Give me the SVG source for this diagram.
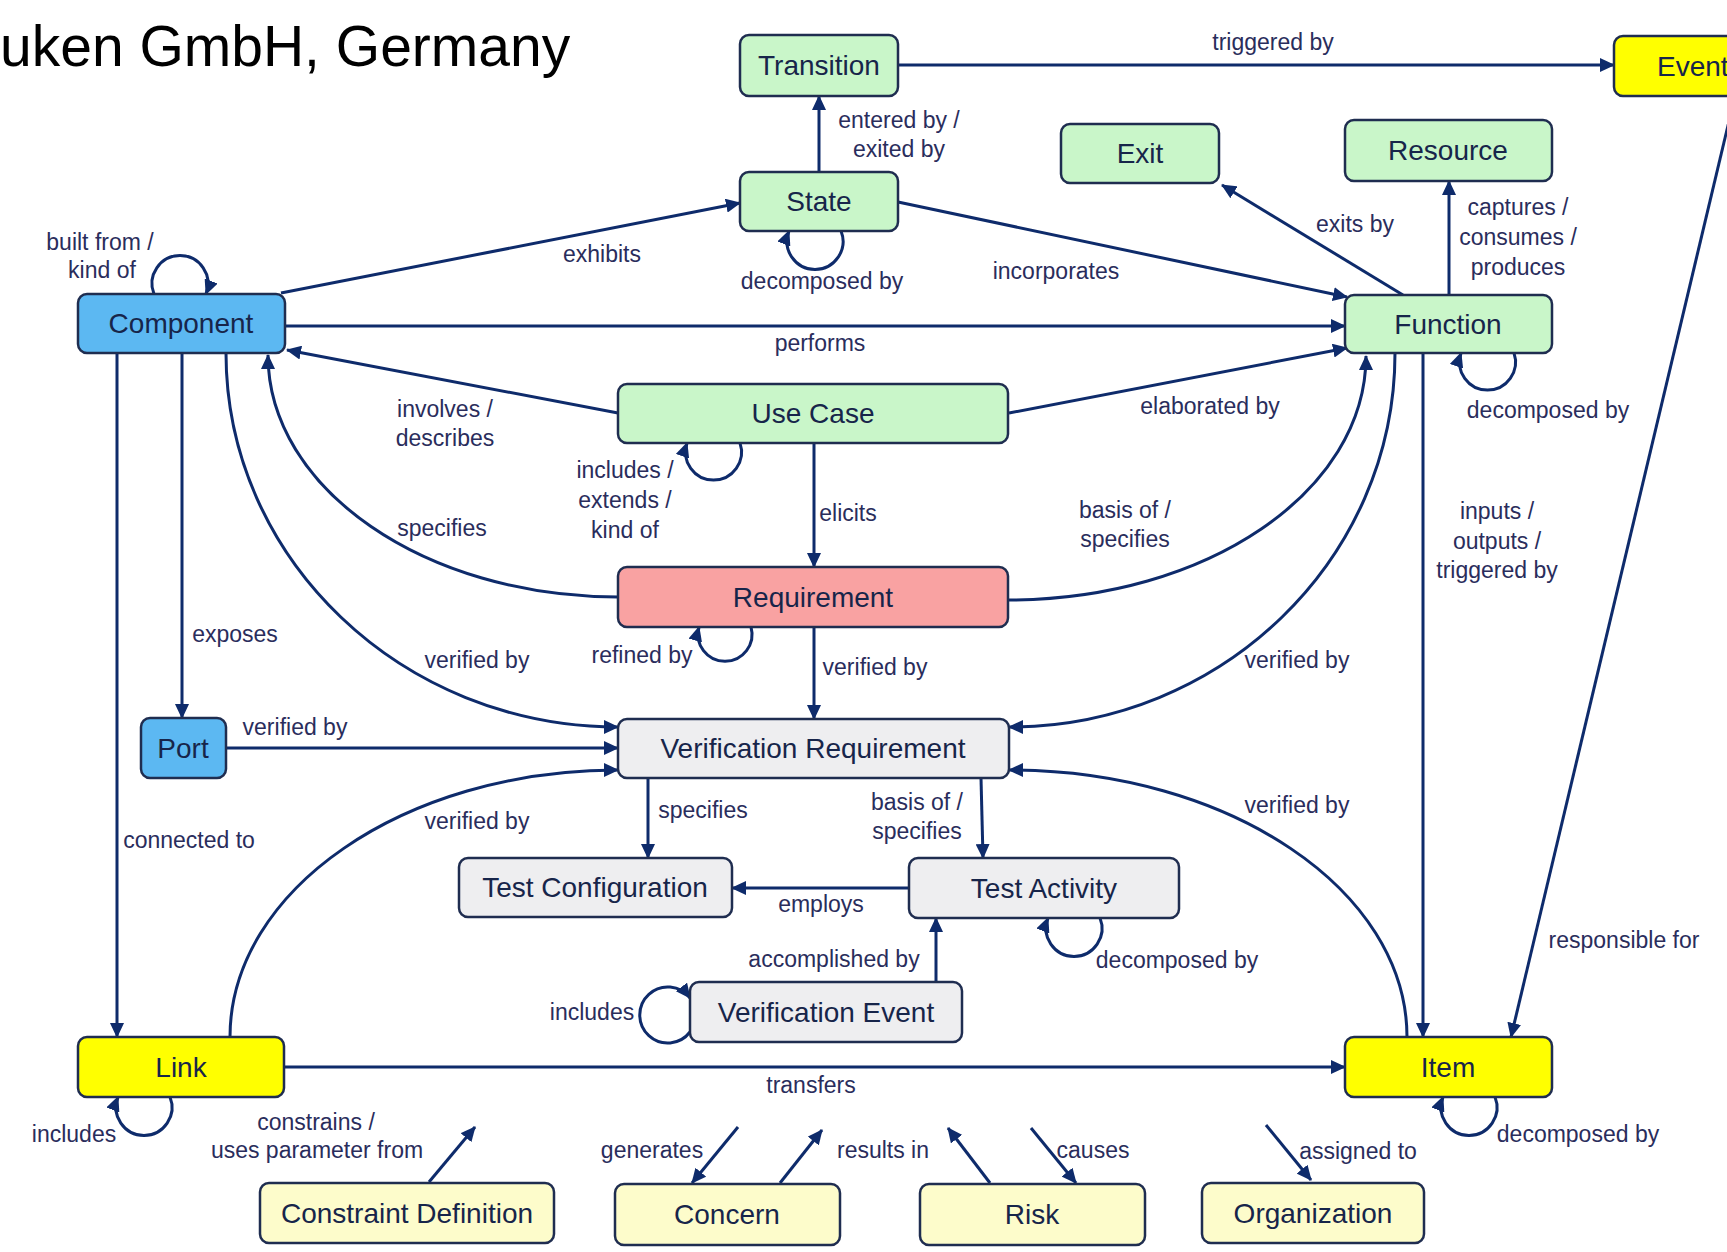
<svg xmlns="http://www.w3.org/2000/svg" width="1727" height="1252" viewBox="0 0 1727 1252">
<style>
.n rect{stroke:#1f2d50;stroke-width:2.5}
.n text{font-family:"Liberation Sans",Arial,sans-serif;font-size:28px;fill:#17254a;text-anchor:middle}
.g rect{fill:#c9f6c9}.b rect{fill:#5cb8f2}.r rect{fill:#f9a2a2}.v rect{fill:#eeeef0}.y rect{fill:#ffff00}.p rect{fill:#fdfccb}
#connectors path{fill:none;stroke:#0e2b6b;stroke-width:3}
#connectors .a{marker-end:url(#arr)}
#labels text{font-family:"Liberation Sans",Arial,sans-serif;font-size:23px;fill:#2a2d5c;text-anchor:middle}
</style>
<defs>
<marker id="arr" markerUnits="userSpaceOnUse" markerWidth="16" markerHeight="14" refX="14" refY="7" orient="auto">
<path d="M0,0 L15,7 L0,14 z" fill="#0e2b6b"/>
</marker>
</defs>
<rect width="1727" height="1252" fill="#ffffff"/>
<text x="0" y="66" font-family="Liberation Sans,Arial,sans-serif" font-size="57" fill="#000000">uken GmbH, Germany</text>

<g id="connectors">
<path class="a" d="M898 65 L1614 65"/>
<path class="a" d="M819 172 L819 96"/>
<path class="a" d="M281 293 L740 203"/>
<path class="a" d="M841 231 A 28 28 0 1 1 789 231"/>
<path class="a" d="M898 202 L1347 297"/>
<path class="a" d="M285 326 L1345 326"/>
<path class="a" d="M1403 295 L1222 185"/>
<path class="a" d="M1449 295 L1449 181"/>
<path class="a" d="M1514 353 A 28 28 0 1 1 1461 353"/>
<path class="a" d="M1009 413 L1347 348"/>
<path class="a" d="M618 413 L287 350"/>
<path class="a" d="M740 443 A 28 28 0 1 1 687 443"/>
<path class="a" d="M814 443 L814 567"/>
<path class="a" d="M618 597 C425 597 268 489 268 355"/>
<path class="a" d="M1008 600 C1206 600 1366 492 1366 356"/>
<path class="a" d="M751 627 A 27 27 0 1 1 699 627"/>
<path class="a" d="M814 627 L814 719"/>
<path class="a" d="M226 353 C226 559 402 727 618 727"/>
<path class="a" d="M1395 353 C1395 559 1222 727 1009 727"/>
<path class="a" d="M226 748 L618 748"/>
<path class="a" d="M182 353 L182 718"/>
<path class="a" d="M117 353 L117 1037"/>
<path class="a" d="M230 1037 C230 890 404 770 618 770"/>
<path class="a" d="M1407 1037 C1407 890 1229 770 1009 770"/>
<path class="a" d="M1423 353 L1423 1037"/>
<path class="a" d="M1735 96 L1511 1037"/>
<path class="a" d="M284 1067 L1345 1067"/>
<path class="a" d="M170 1097 A 28 28 0 1 1 118 1097"/>
<path class="a" d="M429 1182 L475 1127"/>
<path class="a" d="M738 1127 L692 1183"/>
<path class="a" d="M780 1183 L822 1130"/>
<path class="a" d="M990 1183 L948 1128"/>
<path class="a" d="M1031 1128 L1076 1183"/>
<path class="a" d="M1266 1125 L1311 1180"/>
<path class="a" d="M648 778 L648 858"/>
<path class="a" d="M981 778 L983 858"/>
<path class="a" d="M909 888 L732 888"/>
<path class="a" d="M936 982 L936 918"/>
<path class="a" d="M1100 918 A 28 28 0 1 1 1048 918"/>
<path class="a" d="M690 1032 A 28 28 0 1 1 690 998"/>
<path class="a" d="M1495 1097 A 28 28 0 1 1 1443 1097"/>
<path class="a" d="M154 294 A 28 28 0 1 1 206 294"/>
</g>

<g id="labels">
<text x="1273" y="50">triggered by</text>
<text x="899" y="128">entered by /</text>
<text x="899" y="157">exited by</text>
<text x="1355" y="232">exits by</text>
<text x="1518" y="215">captures /</text>
<text x="1518" y="245">consumes /</text>
<text x="1518" y="275">produces</text>
<text x="822" y="289">decomposed by</text>
<text x="1056" y="279">incorporates</text>
<text x="602" y="262">exhibits</text>
<text x="100" y="250">built from /</text>
<text x="102" y="278">kind of</text>
<text x="820" y="351">performs</text>
<text x="1548" y="418">decomposed by</text>
<text x="1210" y="414">elaborated by</text>
<text x="445" y="417">involves /</text>
<text x="445" y="446">describes</text>
<text x="625" y="478">includes /</text>
<text x="625" y="508">extends /</text>
<text x="625" y="538">kind of</text>
<text x="848" y="521">elicits</text>
<text x="442" y="536">specifies</text>
<text x="1125" y="518">basis of /</text>
<text x="1125" y="547">specifies</text>
<text x="1497" y="519">inputs /</text>
<text x="1497" y="549">outputs /</text>
<text x="1497" y="578">triggered by</text>
<text x="642" y="663">refined by</text>
<text x="875" y="675">verified by</text>
<text x="235" y="642">exposes</text>
<text x="477" y="668">verified by</text>
<text x="1297" y="668">verified by</text>
<text x="295" y="735">verified by</text>
<text x="703" y="818">specifies</text>
<text x="917" y="810">basis of /</text>
<text x="917" y="839">specifies</text>
<text x="477" y="829">verified by</text>
<text x="1297" y="813">verified by</text>
<text x="189" y="848">connected to</text>
<text x="821" y="912">employs</text>
<text x="834" y="967">accomplished by</text>
<text x="1177" y="968">decomposed by</text>
<text x="592" y="1020">includes</text>
<text x="811" y="1093">transfers</text>
<text x="1624" y="948">responsible for</text>
<text x="74" y="1142">includes</text>
<text x="316" y="1130">constrains /</text>
<text x="317" y="1158">uses parameter from</text>
<text x="652" y="1158">generates</text>
<text x="883" y="1158">results in</text>
<text x="1093" y="1158">causes</text>
<text x="1358" y="1159">assigned to</text>
<text x="1578" y="1142">decomposed by</text>
</g>

<g id="node-transition" class="n g"><rect x="740" y="35" width="158" height="61" rx="9"/><text x="819" y="75">Transition</text></g>
<g id="node-state" class="n g"><rect x="740" y="172" width="158" height="59" rx="9"/><text x="819" y="211">State</text></g>
<g id="node-exit" class="n g"><rect x="1061" y="124" width="158" height="59" rx="9"/><text x="1140" y="163">Exit</text></g>
<g id="node-resource" class="n g"><rect x="1345" y="120" width="207" height="61" rx="9"/><text x="1448" y="160">Resource</text></g>
<g id="node-function" class="n g"><rect x="1345" y="295" width="207" height="58" rx="9"/><text x="1448" y="334">Function</text></g>
<g id="node-event" class="n y"><rect x="1614" y="36" width="150" height="60" rx="9"/><text x="1657" y="76" style="text-anchor:start">Event</text></g>
<g id="node-component" class="n b"><rect x="78" y="294" width="207" height="59" rx="9"/><text x="181" y="333">Component</text></g>
<g id="node-usecase" class="n g"><rect x="618" y="384" width="390" height="59" rx="9"/><text x="813" y="423">Use Case</text></g>
<g id="node-requirement" class="n r"><rect x="618" y="567" width="390" height="60" rx="9"/><text x="813" y="607">Requirement</text></g>
<g id="node-verification-requirement" class="n v"><rect x="618" y="719" width="391" height="59" rx="9"/><text x="813" y="758">Verification Requirement</text></g>
<g id="node-port" class="n b"><rect x="141" y="718" width="85" height="60" rx="9"/><text x="183" y="758">Port</text></g>
<g id="node-test-configuration" class="n v"><rect x="459" y="858" width="273" height="59" rx="9"/><text x="595" y="897">Test Configuration</text></g>
<g id="node-test-activity" class="n v"><rect x="909" y="858" width="270" height="60" rx="9"/><text x="1044" y="898">Test Activity</text></g>
<g id="node-verification-event" class="n v"><rect x="690" y="982" width="272" height="60" rx="9"/><text x="826" y="1022">Verification Event</text></g>
<g id="node-link" class="n y"><rect x="78" y="1037" width="206" height="60" rx="9"/><text x="181" y="1077">Link</text></g>
<g id="node-item" class="n y"><rect x="1345" y="1037" width="207" height="60" rx="9"/><text x="1448" y="1077">Item</text></g>
<g id="node-constraint-definition" class="n p"><rect x="260" y="1183" width="294" height="60" rx="9"/><text x="407" y="1223">Constraint Definition</text></g>
<g id="node-concern" class="n p"><rect x="615" y="1184" width="225" height="61" rx="9"/><text x="727" y="1224">Concern</text></g>
<g id="node-risk" class="n p"><rect x="920" y="1184" width="225" height="61" rx="9"/><text x="1032" y="1224">Risk</text></g>
<g id="node-organization" class="n p"><rect x="1202" y="1183" width="222" height="60" rx="9"/><text x="1313" y="1223">Organization</text></g>
</svg>
